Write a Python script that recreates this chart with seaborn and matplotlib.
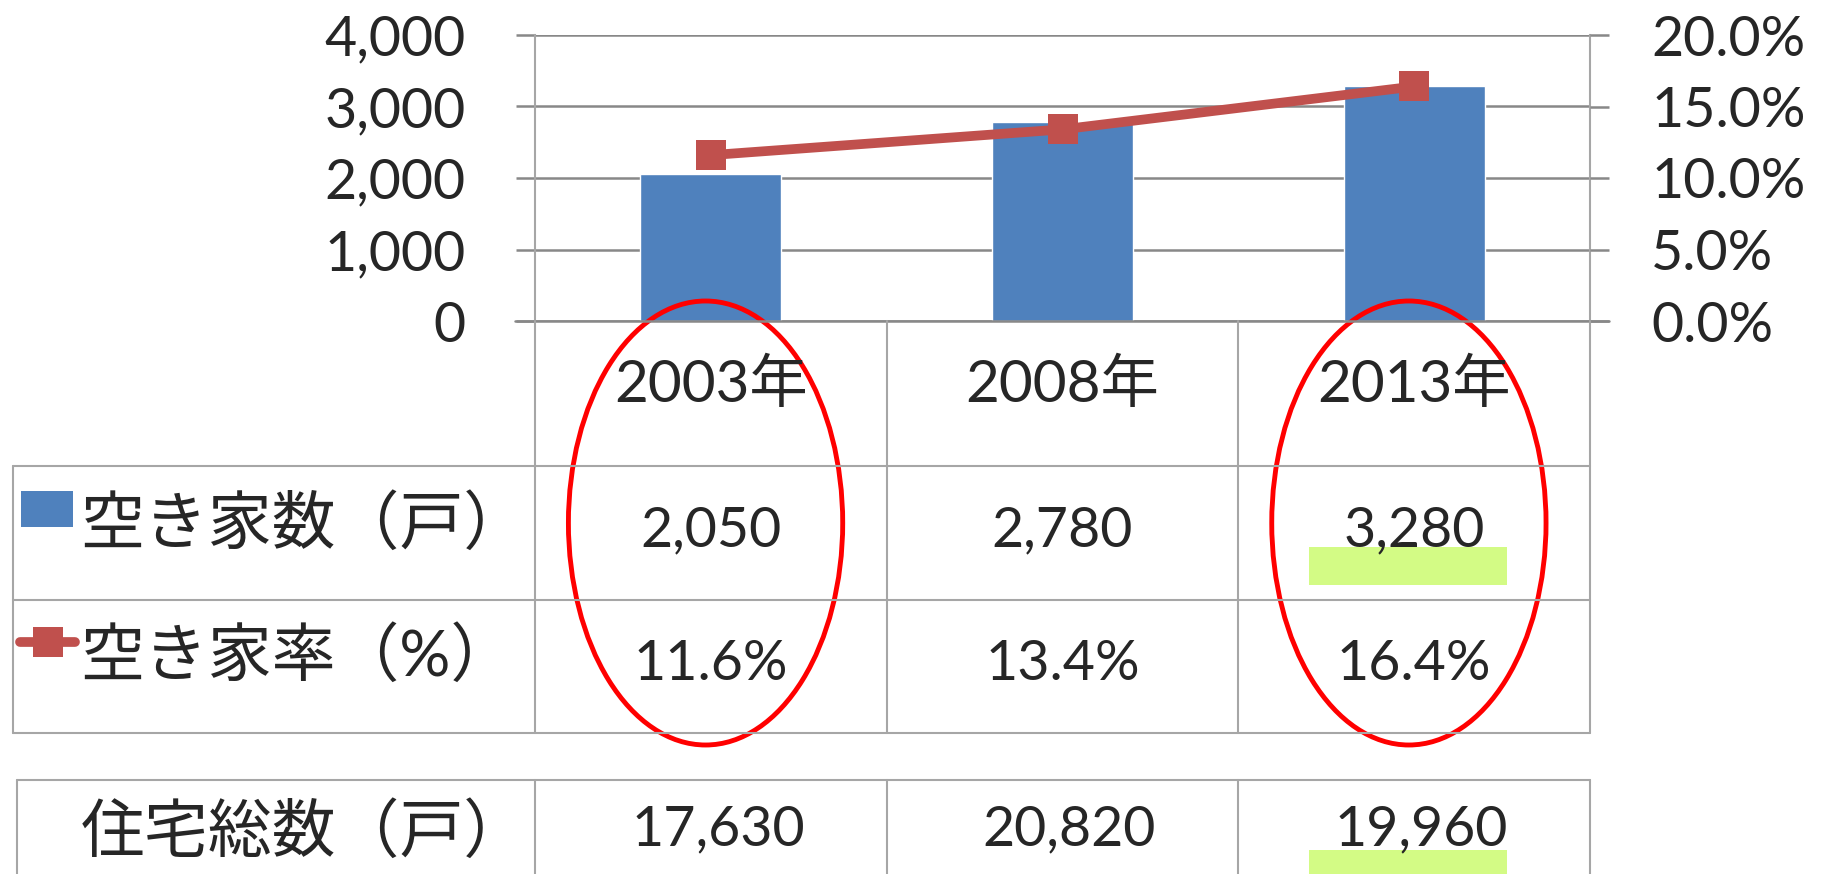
import numpy as np
import pandas as pd
import matplotlib
matplotlib.use("Agg")
import matplotlib.pyplot as plt
import matplotlib.transforms as mtransforms
from matplotlib.patches import Ellipse, Rectangle
from matplotlib.lines import Line2D
from matplotlib.ticker import FuncFormatter
import seaborn as sns

# ---- data ----
years = ["2003年", "2008年", "2013年"]
vacant_houses = [2050, 2780, 3280]
vacancy_rate = [11.6, 13.4, 16.4]
total_houses = [17630, 20820, 19960]
row_labels = ["空き家数（戸）", "空き家率（%）"]
total_label = "住宅総数（戸）"
left_ticks = [0, 1000, 2000, 3000, 4000]
right_ticks = [0, 5, 10, 15, 20]
circled = [0, 2]
highlighted = [2]

# ---- style ----
BLUE = "#4F81BD"
RED = "#C0504D"
GRID = "#888888"
LINE = "#A6A6A6"
GREEN = "#A9F90D"

sns.set_style("white")
plt.rcParams["font.family"] = ["Lato", "Noto Sans CJK JP"]

W, H = 1823, 874
fig = plt.figure(figsize=(W / 100, H / 100), dpi=100)
ax = fig.add_axes([535 / W, 1 - 321 / H, 1055 / W, 286 / H])

df = pd.DataFrame({"year": years, "vacant": vacant_houses, "rate": vacancy_rate})
sns.barplot(data=df, x="year", y="vacant", ax=ax, color=BLUE, saturation=1,
            width=0.4, zorder=2)
ax.set_ylim(0, 4000)
ax.set_yticks(left_ticks)
ax.yaxis.set_major_formatter(FuncFormatter(lambda v, p: f"{v:,.0f}"))
ax.set_xlim(-0.5, 2.5)
ax.set_xticks([])
ax.set_xlabel("")
ax.set_ylabel("")
ax.grid(axis="y", color=GRID, lw=1.8)
ax.set_axisbelow(True)
ax.tick_params(axis="y", left=True, length=14, width=1.8, color=GRID,
               labelsize=40, pad=36)
for s in ["top", "bottom"]:
    ax.spines[s].set_visible(False)
for s in ["left", "right"]:
    ax.spines[s].set_color(LINE)
    ax.spines[s].set_linewidth(1.5)

ax2 = ax.twinx()
sns.pointplot(data=df, x="year", y="rate", ax=ax2, color=RED, marker="s",
              markersize=22, markeredgewidth=0, linewidth=7, errorbar=None)
ax2.set_ylim(0, 20)
ax2.set_xlim(-0.5, 2.5)
ax2.set_yticks(right_ticks)
ax2.yaxis.set_major_formatter(FuncFormatter(lambda v, p: f"{v:.1f}%"))
ax2.set_ylabel("")
ax2.set_xlabel("")
ax2.grid(False)
ax2.tick_params(axis="y", right=True, length=14, width=1.8, color=GRID,
                labelsize=40, pad=30)
for s in ax2.spines.values():
    s.set_visible(False)

# ---- overlay for the data table ----
ov = fig.add_axes([0, 0, 1, 1], zorder=10)
ov.set_xlim(0, W)
ov.set_ylim(H, 0)
ov.axis("off")
bt = mtransforms.blended_transform_factory(ax.transData, ov.transData)
right_px = ax.get_position().x1 * W

# grid of the upper table
for yy in [466, 600, 733]:
    ov.add_line(Line2D([13, right_px], [yy, yy], color=LINE, lw=1.5))
ov.add_line(Line2D([13, 13], [466, 733], color=LINE, lw=1.5))
ov.add_line(Line2D([535 - 20, right_px + 19], [321, 321], color=GRID, lw=1.8))
for b in [-0.5, 0.5, 1.5, 2.5]:
    ov.add_line(Line2D([b, b], [321, 733], color=LINE, lw=1.5, transform=bt))
# lower table
ov.add_line(Line2D([17, right_px], [780, 780], color=LINE, lw=1.5))
ov.add_line(Line2D([17, 17], [780, H], color=LINE, lw=1.5))
for b in [-0.5, 0.5, 1.5, 2.5]:
    ov.add_line(Line2D([b, b], [780, H], color=LINE, lw=1.5, transform=bt))

# texts
for i, y in enumerate(years):
    ov.text(i, 385, y, transform=bt, ha="center", va="center", fontsize=42)
for i, v in enumerate(vacant_houses):
    ov.text(i, 531, f"{v:,}", transform=bt, ha="center", va="center", fontsize=40)
for i, r in enumerate(vacancy_rate):
    ov.text(i, 665, f"{r:.1f}%", transform=bt, ha="center", va="center", fontsize=40)
for i, t in enumerate(total_houses):
    ov.text(i + 0.02, 830, f"{t:,}", transform=bt, ha="center", va="center", fontsize=40)

ov.text(80, 524, row_labels[0], ha="left", va="center", fontsize=46)
ov.text(80, 656, row_labels[1], ha="left", va="center", fontsize=46)
ov.text(81, 832, total_label, ha="left", va="center", fontsize=46)

# legend keys
ov.add_patch(Rectangle((21, 491), 52, 36, color=BLUE, lw=0))
ov.add_line(Line2D([20, 75], [642, 642], color=RED, lw=7, solid_capstyle="round"))
ov.add_line(Line2D([47.5], [642], color=RED, marker="s", ms=22, mew=0, lw=0))

# highlight boxes
for i in highlighted:
    ov.add_patch(Rectangle((i - 0.298, 547), 0.5625, 38, transform=bt,
                           facecolor=GREEN, alpha=0.5, lw=0))
    ov.add_patch(Rectangle((i - 0.298, 850), 0.5625, 30, transform=bt,
                           facecolor=GREEN, alpha=0.5, lw=0))

# red circles
for i in circled:
    ov.add_patch(Ellipse((i - 0.015, 523), 0.78, 444, transform=bt,
                         fill=False, edgecolor="#FF0000", lw=3.5))

fig.savefig("out.png", dpi=100)
